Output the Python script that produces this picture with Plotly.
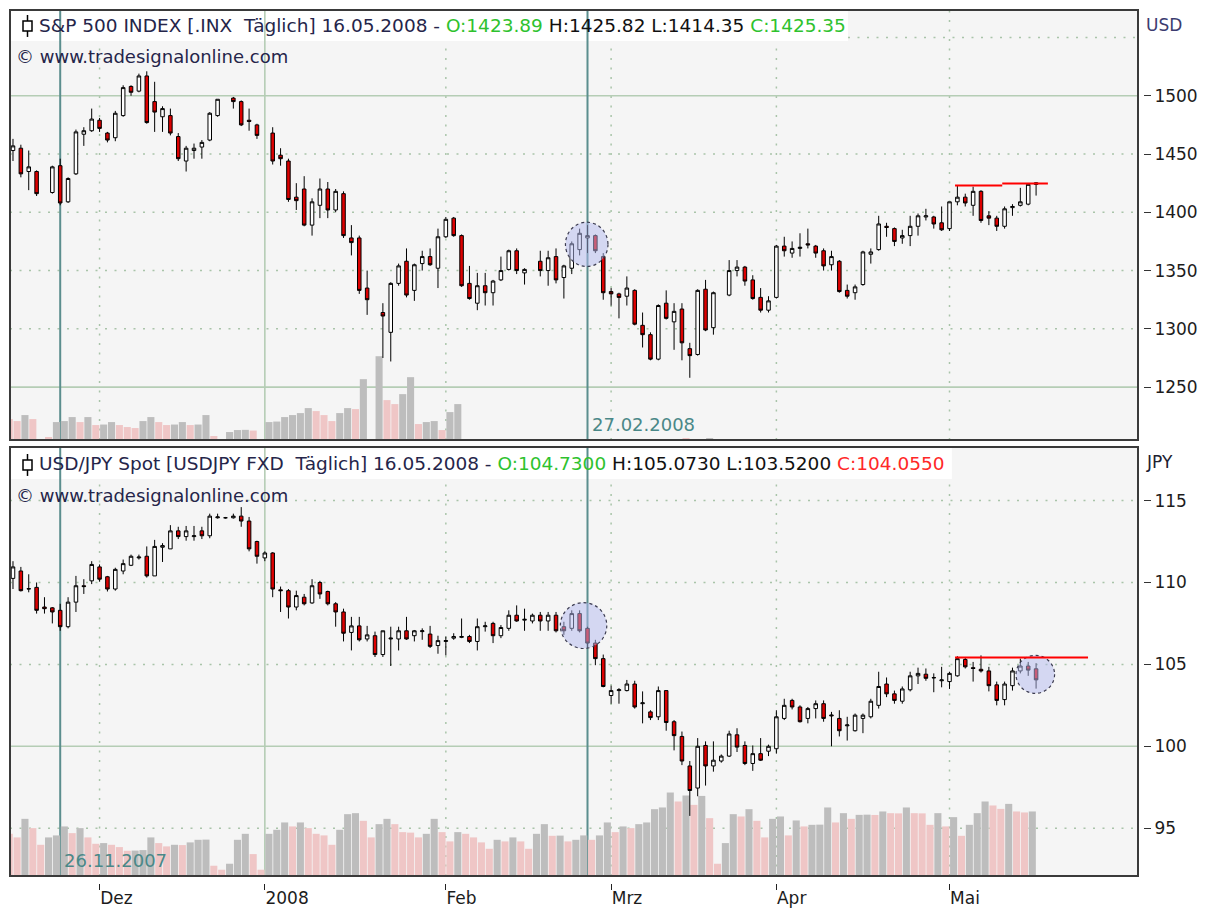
import plotly.graph_objects as go

# ---------------- data ----------------
# x axis = trading-day slot (0 = 16.11.2007 ... 130 = 16.05.2008)
month_tick_idx = [11, 32, 55, 76, 97, 119]
month_tick_text = ["Dez", "2008", "Feb", "Mrz", "Apr", "Mai"]
year_start_idx = 32
event_idx = [6, 73]
event_text = ["26.11.2007", "27.02.2008"]
last_date = "16.05.2008"

spx_open = [1453,1455,1435,1435,None,1417,1440,1409,1433,1467,
            1470,1479,1468,1464,1483,1508,1504,1517,1495,1482,
            1483,1465,1444,1453,1456,1462,1483,None,1498,1495,
            1479,1475,None,1468,1449,1444,1413,1420,1389,1406,
            1420,1402,1416,1378,1378,1335,None,1314,1297,1339,
            1358,1333,1356,1362,1352,1379,1395,1380,1339,1322,
            1337,1331,1342,1351,1367,1348,None,1358,1350,1362,
            1344,1352,1368,1378,1380,1362,1332,1330,1328,1333,
            1303,1295,1274,1322,1306,1317,1283,1278,1334,1301,
            None,1329,1350,1353,1342,1327,1316,1327,1371,1365,
            1369,1373,1371,1367,1355,1358,1333,1331,1338,1364,
            1368,1388,1386,1378,1380,1388,1396,1396,1391,1386,
            1409,1413,1406,1418,1397,1395,1388,1404,1406,1407,
            1423.89]
spx_high = [1463,1458,1453,1436,None,1440,1446,1430,1471,1473,
            1489,1481,1469,1487,1509,1509,1519,1521,1512,1491,
            1489,1468,1457,1459,1462,1486,1497,None,1499,1496,
            1489,1476,None,1473,1455,1446,1425,1431,1412,1429,
            1426,1420,1418,1389,1380,1350,None,1322,1340,1356,
            1369,1356,1367,1369,1386,1396,1396,1381,1354,1348,
            1348,1342,1362,1368,1369,1352,None,1367,1367,1369,
            1355,1375,1386,1389,1381,1365,1335,1331,1345,1334,
            1314,1297,1321,1333,1322,1322,1288,1334,1342,1332,
            None,1359,1359,1354,1346,1335,1328,1372,1379,1375,
            1382,1386,1372,1369,1367,1359,1338,1338,1367,1369,
            1397,1391,1387,1385,1397,1399,1403,1397,1405,1409,
            1423,1416,1422,1419,1401,1397,1405,1407,1421,1424,
            1425.82]
spx_low = [1444,1430,1419,1414,None,1416,1406,1408,1432,1457,
           1469,1469,1460,1461,1482,1500,1503,1476,1469,1469,
           1466,1444,1435,1446,1446,1461,1482,None,1489,1474,
           1470,1463,None,1441,1440,1409,1402,1388,1380,1395,
           1395,1400,1378,1363,1330,1312,None,1275,1272,1337,
           1327,1324,1350,1354,1335,1378,1379,1336,1325,1316,
           1320,1320,1341,1350,1347,1338,None,1345,1337,1339,
           1326,1347,1363,1365,1365,1325,1320,1309,1320,1303,
           1284,1273,1273,1308,1282,1273,1258,1277,1298,1295,
           None,1328,1345,1337,1325,1314,1314,1326,1362,1361,
           1362,1369,1361,1350,1350,1331,1326,1325,1337,1356,
           1367,1379,1371,1373,1371,1380,1393,1386,1384,1384,
           1406,1405,1397,1391,1389,1384,1386,1397,1405,1406,
           1414.35]
spx_close = [1457,1433,1439,1416,None,1439,1408,1429,1469,1470,
             1480,1472,1462,1485,1507,1503,1517,1477,1486,1489,
             1468,1446,1455,1455,1460,1485,1497,None,1495,1475,
             1478,1466,None,1444,1446,1411,1410,1389,1409,1420,
             1402,1418,1380,1374,1333,1325,None,1311,1339,1354,
             1329,1355,1362,1355,1379,1394,1380,1337,1326,1337,
             1331,1341,1350,1367,1350,1351,None,1350,1361,1342,
             1354,1373,1382,1380,1367,1331,1330,1327,1335,1304,
             1295,1274,1320,1309,1315,1288,1277,1333,1299,1331,
             None,1350,1353,1341,1326,1316,1324,1371,1367,1369,
             1370,1372,1365,1354,1362,1332,1328,1336,1366,1366,
             1390,1387,1375,1380,1388,1397,1397,1390,1385,1409,
             1413,1408,1418,1393,1395,1388,1403,1405,1409,1424,
             1425.35]
# relative volume (only partly available for the index)
spx_volume = ([21,19,25,21,None,3,18,19,23,18,
               23,15,15.5,18,15,13,12,19,23,18,
               15,15.5,18,15,15.5,25,4,None,8,10,
               10.2,9.5,None,18,18.5,23,25,27,32,29,
               25,19,27,32,31,61,None,84,40,36,
               46,63,16,18,19,10,28,36]
              + [None]*28 + [2, None, None, 2] + [None]*41)

jpy_open = [110.25,110.7,109.6,109.7,108.5,108.45,108.3,107.3,108.8,109.8,
            110.1,110.95,110.35,109.6,110.7,111.05,111.5,111.6,110.4,112.15,
            112.05,113.15,112.8,112.8,113.15,112.85,113.95,113.95,113.95,114.05,
            113.75,112.5,111.5,111.8,109.55,109.5,108.5,109.1,108.75,110.0,
            109.45,108.7,108.2,106.95,107.35,106.55,106.75,105.6,106.55,106.55,
            107.05,106.75,107.0,106.85,106.15,106.4,106.6,106.65,106.7,106.4,
            107.3,107.5,106.75,107.2,108.0,107.7,107.65,108.0,107.65,108.0,
            107.3,107.2,108.1,107.2,106.3,105.35,103.1,103.4,103.4,103.8,
            102.6,102.1,101.8,103.4,101.5,100.6,98.8,97.45,100.05,98.8,
            99.1,99.4,100.7,100.05,98.95,99.55,99.7,99.85,101.7,102.8,
            102.4,101.7,102.3,102.6,101.85,101.7,101.25,100.95,101.7,101.8,
            102.5,103.8,103.2,102.75,103.45,104.3,104.4,104.2,104.0,103.95,
            104.3,105.3,104.8,104.7,104.6,103.75,102.85,103.7,104.6,104.9,
            104.73]
jpy_high = [111.3,110.95,110.5,110.0,109.1,108.5,108.7,109.1,110.4,110.2,
            111.3,111.1,110.4,110.9,111.4,111.7,111.7,112.2,112.6,112.4,
            113.5,113.4,113.45,113.45,113.4,114.2,114.2,114.0,114.2,114.6,
            114.0,112.55,111.9,111.85,109.75,109.6,109.5,109.3,110.2,110.1,
            109.5,108.8,108.4,107.9,107.9,107.35,107.0,107.05,107.3,107.3,
            107.9,107.1,107.2,107.35,106.75,106.7,106.9,107.8,106.8,107.8,
            107.6,107.6,107.4,108.3,108.6,108.4,108.1,108.2,108.2,108.2,
            107.6,108.3,108.3,107.3,106.5,105.6,103.7,103.55,104.05,104.0,
            103.35,102.2,103.65,103.4,101.6,100.9,99.1,100.5,100.3,100.3,
            99.5,100.95,101.1,100.3,100.05,100.5,100.1,102.2,102.9,102.9,
            102.5,102.4,102.8,102.8,102.1,102.2,101.8,102.0,102.0,102.9,
            104.55,104.2,103.4,103.65,104.55,104.8,104.75,104.45,104.85,104.55,
            105.5,105.45,105.15,105.55,104.85,103.95,103.95,104.8,105.35,105.15,
            105.073]
jpy_low = [109.6,109.45,109.4,108.1,108.1,107.5,107.05,107.2,108.2,109.3,
           109.9,110.05,109.45,109.5,110.5,111.0,111.4,110.3,110.4,111.25,
           112.05,112.65,112.55,112.55,112.65,112.7,113.9,113.9,113.9,113.4,
           111.9,111.15,111.3,109.1,108.2,107.8,108.3,108.6,108.7,109.0,
           108.6,107.3,106.4,105.85,106.4,106.4,105.45,105.45,104.9,105.85,
           106.5,106.4,106.5,106.0,105.65,105.55,106.5,106.6,106.3,105.85,
           107.0,106.3,106.6,107.05,107.6,107.05,107.5,107.05,107.05,106.95,
           106.8,107.05,106.95,106.0,104.95,103.6,102.6,102.6,103.35,102.3,
           101.4,101.6,101.6,100.95,99.75,98.85,95.75,96.95,97.6,98.45,
           99.0,99.35,99.65,98.85,98.5,99.1,99.4,99.55,101.6,102.25,
           101.45,101.4,101.7,101.5,100.0,100.6,100.35,100.9,100.8,101.7,
           102.3,103.0,102.6,102.6,103.35,103.8,104.0,103.3,103.6,103.5,
           104.25,104.75,103.95,104.5,103.35,102.5,102.5,103.4,104.45,104.3,
           103.52]
jpy_close = [110.95,109.5,109.62,108.3,108.4,108.2,107.3,108.8,109.8,109.75,
             111.1,110.2,109.6,110.8,111.15,111.6,111.55,110.4,112.2,112.25,
             113.15,112.8,113.15,112.85,112.85,114.05,114.0,113.95,114.05,113.75,
             112.05,111.6,111.8,109.6,109.5,108.5,109.2,108.7,109.8,109.3,
             108.7,108.2,106.9,107.35,106.5,106.8,105.6,107.05,106.6,107.05,
             106.55,107.05,107.05,106.1,106.45,106.45,106.7,106.7,106.4,107.3,
             107.35,106.75,107.25,108.0,107.65,107.75,108.0,107.65,108.0,107.05,
             107.05,108.1,107.05,106.3,105.35,103.65,103.4,103.45,103.8,102.4,
             102.65,101.75,103.4,101.45,100.65,99.1,97.3,100.0,98.8,99.15,
             99.4,100.75,99.95,98.95,99.55,99.15,100.0,101.8,102.5,102.4,
             101.5,102.3,102.6,101.7,101.9,100.95,101.3,101.9,101.9,102.75,
             103.65,103.2,102.8,103.5,104.3,104.45,104.15,104.18,104.05,104.45,
             105.35,104.85,104.75,104.6,103.7,102.8,103.8,104.6,104.9,104.65,
             104.055]
jpy_volume = [42.3,38.7,57.3,48,31.3,38.7,40.7,49.7,43,48,
              38.7,32.3,33,31.3,29,25.3,25.5,26,38.7,33,
              29.7,31.3,31,33.7,36.3,36.5,10.3,6.3,12.3,36.3,
              42.3,22,6.3,42.3,46.3,53.7,49.7,53.7,48,42.3,
              40.7,31.3,46.3,62,63,55.3,38.7,52,57.3,52,
              44,43.5,38.7,42.3,57.3,44,34.7,44,42.3,38.7,
              33.7,27.3,36.3,34.7,38.7,34.7,27.3,42.3,52,40.3,
              40.5,34.7,36.3,40.7,36.3,40.7,53.7,44,49.7,48,
              52,53.7,67,68.7,83.7,74.7,80.7,71.3,80.3,58,
              12.3,33,62,59.7,67,55.3,38.7,57.3,59.7,40.7,
              55.7,49.7,51.3,51.5,68.7,53.7,63,57.3,61.3,61.5,
              61.2,64.7,63,62.8,68.7,63,62.8,51.3,63,49.7,
              59,40.3,51.3,63,74.7,70.7,67.3,72.3,64.7,63.7,
              64.7]

# price levels
spx_ticks = [1250, 1300, 1350, 1400, 1450, 1500]
spx_hidden_level = 1550
jpy_ticks = [95, 100, 105, 110, 115]
spx_major = [1250, 1500]
jpy_major = [100]

# analyst annotations (data coordinates)
spx_resistance = [(119.7, 125.7, 1423.0), (125.7, 131.5, 1424.7)]
jpy_resistance = [(119.7, 136.6, 105.42)]
spx_circles = [(72.9, 1372.5, 2.7, 19.0)]
jpy_circles = [(72.5, 107.37, 2.95, 1.40), (129.9, 104.39, 2.45, 1.16)]

N = len(spx_open)
idx = list(range(N))

# ---------------- style / layout ----------------
FONT = "DejaVu Sans"
GRID = "#a9c4a9"
GREEN_LINE = "#b5cdb5"
TEAL = "#5b8e8e"
GRAY_VOL = "#bdbdbd"
PINK_VOL = "#efc6c6"
DOT = "2px,7.5px"

# the page has an 8px body margin, so the figure is sized 8px smaller
FIG_W, FIG_H = 1202, 902


def pxx(px):  # window pixel -> paper x
    return (px - 10) / 1133.0


def pxy(py):  # window pixel -> paper y
    return (885 - py) / 875.0


XDOM = [0, 1128 / 1133.0]
XR = [-0.38, 142.95]
# header boxes: right edge in slot units, lower edge in panel-domain units
TOP_BAND_END, TOP_BAND_LOW = 106.1, (441 - 41) / 431.0
BOT_BAND_END, BOT_BAND_LOW = 119.3, (878 - 480) / 430.0


def vol_colors(v):
    cols, prev = [], None
    for val in v:
        if val is None:
            cols.append(PINK_VOL)
            continue
        cols.append(GRAY_VOL if (prev is not None and val >= prev) else PINK_VOL)
        prev = val
    return cols


def candles(o, h, l, c, xa, ya):
    keep = [i for i in idx if o[i] is not None]
    return go.Candlestick(
        x=keep, open=[o[i] for i in keep], high=[h[i] for i in keep],
        low=[l[i] for i in keep], close=[c[i] for i in keep],
        xaxis=xa, yaxis=ya, whiskerwidth=0, hoverinfo="skip",
        increasing=dict(line=dict(color="#000000", width=1), fillcolor="#ffffff"),
        decreasing=dict(line=dict(color="#000000", width=1), fillcolor="#dd0000"),
    )


fig = go.Figure()
fig.add_trace(go.Bar(x=idx, y=spx_volume, marker=dict(color=vol_colors(spx_volume), line=dict(width=0)),
                     width=0.9, offset=-0.93, xaxis="x", yaxis="y", hoverinfo="skip"))
fig.add_trace(go.Bar(x=idx, y=jpy_volume, marker=dict(color=vol_colors(jpy_volume), line=dict(width=0)),
                     width=0.9, offset=-0.93, xaxis="x2", yaxis="y2", hoverinfo="skip"))
fig.add_trace(candles(spx_open, spx_high, spx_low, spx_close, "x", "y3"))
fig.add_trace(candles(jpy_open, jpy_high, jpy_low, jpy_close, "x2", "y4"))

shapes = []
panels = [
    dict(xa="x", ydom="y domain", ya="y3", ticks=spx_ticks, major=spx_major,
         band_end=TOP_BAND_END, band_low=TOP_BAND_LOW),
    dict(xa="x2", ydom="y2 domain", ya="y4", ticks=jpy_ticks, major=jpy_major,
         band_end=BOT_BAND_END, band_low=BOT_BAND_LOW),
]
for p in panels:
    # white header band (drawn first, everything else on top)
    shapes.append(dict(type="rect", xref=p["xa"], yref=p["ydom"], x0=XR[0], x1=p["band_end"],
                       y0=p["band_low"], y1=1.0, fillcolor="white", line=dict(width=0), layer="below"))
    # dotted horizontal grid
    for lv in p["ticks"]:
        if lv in p["major"]:
            continue
        shapes.append(dict(type="line", xref=p["xa"] + " domain", x0=0, x1=1, yref=p["ya"], y0=lv, y1=lv,
                           line=dict(color=GRID, width=1.5, dash=DOT), layer="below"))
    # dotted vertical grid (stops under the header box)
    for t in month_tick_idx:
        if t == year_start_idx:
            continue
        top = 1.0 if t > p["band_end"] else p["band_low"]
        shapes.append(dict(type="line", xref=p["xa"], x0=t, x1=t, yref=p["ydom"], y0=0, y1=top,
                           line=dict(color=GRID, width=1.5, dash=DOT), layer="below"))
    # solid green levels
    for lv in p["major"]:
        shapes.append(dict(type="line", xref=p["xa"] + " domain", x0=0, x1=1, yref=p["ya"], y0=lv, y1=lv,
                           line=dict(color=GREEN_LINE, width=1.6), layer="below"))
    shapes.append(dict(type="line", xref=p["xa"], x0=year_start_idx, x1=year_start_idx, yref=p["ydom"],
                       y0=0, y1=1, line=dict(color=GREEN_LINE, width=1.6), layer="below"))
    # event markers
    for e in event_idx:
        shapes.append(dict(type="line", xref=p["xa"], x0=e, x1=e, yref=p["ydom"], y0=0, y1=1,
                           line=dict(color=TEAL, width=2), layer="below"))

# hidden top level, only visible right of the header box
shapes.append(dict(type="line", xref="x", x0=TOP_BAND_END, x1=XR[1], yref="y3",
                   y0=spx_hidden_level, y1=spx_hidden_level,
                   line=dict(color=GRID, width=1.5, dash=DOT), layer="below"))

# highlight circles
for xa, ya, circ in (("x", "y3", spx_circles), ("x2", "y4", jpy_circles)):
    for cx, cy, rx, ry in circ:
        shapes.append(dict(type="circle", xref=xa, yref=ya, x0=cx - rx, x1=cx + rx, y0=cy - ry, y1=cy + ry,
                           fillcolor="rgba(180,186,240,0.5)", line=dict(color="#3c3c50", width=1.2, dash="dot"),
                           layer="above"))
# resistance lines
for xa, ya, res in (("x", "y3", spx_resistance), ("x2", "y4", jpy_resistance)):
    for x0, x1, lv in res:
        shapes.append(dict(type="line", xref=xa, yref=ya, x0=x0, x1=x1, y0=lv, y1=lv,
                           line=dict(color="#ff0000", width=2), layer="above"))
# panel borders
for xa, ya in (("x domain", "y domain"), ("x2 domain", "y2 domain")):
    shapes.append(dict(type="rect", xref=xa, yref=ya, x0=0, x1=1, y0=0, y1=1,
                       line=dict(color="#3a3a3a", width=2), fillcolor="rgba(0,0,0,0)", layer="above"))
# little candle icons in the headers
for top in (15, 455):
    shapes.append(dict(type="line", xref="paper", yref="paper", x0=pxx(27.5), x1=pxx(27.5),
                       y0=pxy(top + 22), y1=pxy(top), line=dict(color="#000", width=1.5), layer="above"))
    shapes.append(dict(type="rect", xref="paper", yref="paper", x0=pxx(23), x1=pxx(32),
                       y0=pxy(top + 16), y1=pxy(top + 6), fillcolor="white",
                       line=dict(color="#000", width=1.5), layer="above"))

GREEN_TXT = "#2ec22e"
RED_TXT = "#ff2828"
HEAD = "#25254a"
spx_head = (f'<span style="color:{HEAD}">S&amp;P 500 INDEX [.INX\u00a0\u00a0Täglich] {last_date} - </span>'
            f'<span style="color:{GREEN_TXT}">O:{spx_open[-1]:.2f}</span> '
            f'<span style="color:#111">H:{spx_high[-1]:.2f} L:{spx_low[-1]:.2f}</span> '
            f'<span style="color:{GREEN_TXT}">C:{spx_close[-1]:.2f}</span>')
jpy_head = (f'<span style="color:{HEAD}">USD/JPY Spot [USDJPY FXD\u00a0\u00a0Täglich] {last_date} - </span>'
            f'<span style="color:{GREEN_TXT}">O:{jpy_open[-1]:.4f}</span> '
            f'<span style="color:#111">H:{jpy_high[-1]:.4f} L:{jpy_low[-1]:.4f}</span> '
            f'<span style="color:{RED_TXT}">C:{jpy_close[-1]:.4f}</span>')

ann = []


def txt(text, x, y, size, color=HEAD, xref="paper", yref="paper", xshift=0):
    ann.append(dict(text=text, x=x, y=y, xref=xref, yref=yref, xanchor="left", yanchor="middle",
                    showarrow=False, xshift=xshift, font=dict(family=FONT, size=size, color=color)))


txt(spx_head, pxx(37), pxy(26), 18.5)
txt("© www.tradesignalonline.com", pxx(14), pxy(57), 18)
txt(jpy_head, pxx(37), pxy(465), 18.5)
txt("© www.tradesignalonline.com", pxx(14), pxy(497), 18)
txt("USD", pxx(1144), pxy(25), 17, color="#3c3c70")
txt("JPY", pxx(1144), pxy(463), 17, color="#202030")
txt(event_text[0], event_idx[0], (878 - 862) / 430.0, 18, color="#4a8888", xref="x2", yref="y2 domain", xshift=2)
txt(event_text[1], event_idx[1], (441 - 425) / 431.0, 18, color="#4a8888", xref="x", yref="y domain", xshift=2)

common_x = dict(domain=XDOM, range=XR, tickvals=month_tick_idx, showgrid=False, zeroline=False,
                showline=False, rangeslider=dict(visible=False), fixedrange=True)
common_y = dict(side="right", anchor="free", position=1, showline=False, ticks="outside", ticklen=7,
                tickcolor="#333", tickwidth=1.2, showgrid=False, zeroline=False,
                tickfont=dict(family=FONT, size=17, color="#1c1c1c"), fixedrange=True)

fig.update_layout(
    width=FIG_W, height=FIG_H,
    margin=dict(l=2, r=67, t=2, b=25),
    paper_bgcolor="white", plot_bgcolor="#f5f5f5",
    showlegend=False, hovermode=False, boxgap=0.36,
    font=dict(family=FONT, size=16, color="#1c1c1c"),
    xaxis=dict(anchor="y", showticklabels=False, ticks="", **common_x),
    xaxis2=dict(anchor="free", position=0, matches="x", ticktext=month_tick_text, ticks="outside",
                ticklen=6, tickcolor="#222", tickwidth=1.2, ticklabelposition="outside right",
                tickfont=dict(family=FONT, size=17, color="#1c1c1c"), **common_x),
    yaxis=dict(domain=[pxy(441), 1], range=[0, 431], visible=False, fixedrange=True),
    yaxis2=dict(domain=[pxy(878), pxy(448)], range=[0, 430], visible=False, fixedrange=True),
    yaxis3=dict(overlaying="y", range=[1204.6, 1573.6], tickvals=spx_ticks, **common_y),
    yaxis4=dict(overlaying="y2", range=[92.08, 118.27], tickvals=jpy_ticks, **common_y),
    shapes=shapes, annotations=ann,
)

fig.write_html("out.html")
